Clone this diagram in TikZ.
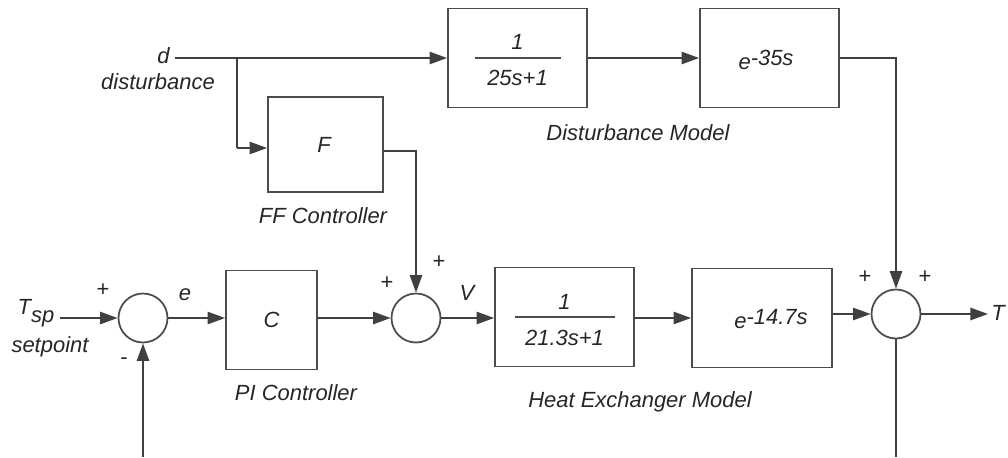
\documentclass[tikz,border=0pt]{standalone}
\usepackage{fontspec}
\setmainfont{Liberation Sans}
\usetikzlibrary{arrows.meta,calc}
\newcommand{\ex}[1]{e\raisebox{0.4ex}{#1}}
\begin{document}
\begin{tikzpicture}[x=0.02cm,y=-0.02cm,
  every node/.style={font=\itshape\fontsize{12.5}{14}\selectfont, text=black!85, inner sep=0pt},
  blk/.style={draw=black!70, line width=1pt, rectangle, inner sep=0pt},
  bigblk/.style={blk, minimum width=2.78cm, minimum height=1.98cm},
  sumnode/.style={draw=black!70, line width=1pt, circle, minimum size=0.98cm},
  wire/.style={draw=black!75, line width=1pt},
  arr/.style={wire, -{Triangle[length=10pt,width=7pt]}},
  sgn/.style={font=\fontsize{12.5}{14}\selectfont},
  fracline/.style={draw=black!70, line width=1pt}]
\useasboundingbox (0,0) rectangle (1008,457);

% top row
\node[bigblk] (g1) at (517.5,58) {};
\node (g1n) at ($(g1.center)+(0,-16)$) {1};
\node (g1d) at ($(g1.center)+(0,20)$) {25s+1};
\draw[fracline] ($(g1.center)+(-43,0)$) -- ($(g1.center)+(43,0)$);
\node[bigblk] (g2) at (769.5,58) {};
\node (g2t) at (766,60) {\ex{-35s}};
\node (dmod) at (638,133) {Disturbance Model};

% FF controller
\node[blk, minimum width=2.3cm, minimum height=1.9cm] (F) at (325.5,144.5) {};
\node (Ft) at (324,145) {F};
\node (ffc) at (323,216) {FF Controller};

% disturbance input
\node[anchor=east] (d) at (170,56) {d};
\node (dist) at (158,82) {disturbance};
\coordinate (din) at (175,58);
\coordinate (br) at (237,58);
\coordinate (brd) at (237,148);

% bottom row
\node[sumnode] (s1) at (143,318) {};
\node[blk, minimum width=1.82cm, minimum height=1.98cm] (C) at (271.5,320) {};
\node (Ct) at (271.5,320) {C};
\node (pic) at (296,393) {PI Controller};
\node[sumnode] (s2) at (416,318) {};
\node[bigblk] (h1) at (564.5,317) {};
\node (h1n) at ($(h1.center)+(0,-15)$) {1};
\node (h1d) at ($(h1.center)+(0,21)$) {21.3s+1};
\draw[fracline] ($(h1.center)+(-50,0)$) -- ($(h1.center)+(50,0)$);
\node[blk, minimum width=2.8cm, minimum height=1.98cm] (h2) at (762,318) {};
\node (h2t) at (771,319) {\ex{-14.7s}};
\node (hxm) at (640,402) {Heat Exchanger Model};
\node[sumnode] (s3) at (896,314) {};

% labels
\node (tsp) at (36,313) {T\raisebox{-0.7ex}{sp}};
\node (sp) at (50,347) {setpoint};
\node[sgn] (p1) at (103,290) {+};
\node[sgn] (m1) at (124,361) {-};
\node (e) at (185,295) {e};
\node[sgn] (p2) at (387,283) {+};
\node[sgn] (p3) at (439,262) {+};
\node (V) at (467,293) {V};
\node[sgn] (p4) at (865,277) {+};
\node[sgn] (p5) at (925,277) {+};
\node[anchor=west] (T) at (991,313) {T};

\coordinate (tin) at (60,318);
\coordinate (fb) at (143,457);
\coordinate (fout) at (416,151);
\coordinate (g2out) at (896,58);
\coordinate (tout) at (988,314);
\coordinate (bot) at (896,457);

% connectors
\draw[arr] (din) -- (g1.west |- din);
\draw[wire] (br) -- (brd);
\draw[arr] (brd) -- (F.west |- brd);
\draw[arr] (g1.east |- din) -- (g2.west |- din);
\draw[arr] (g2.east |- g2out) -- (g2out) -- (s3.north);
\draw[arr] (F.east |- fout) -- (fout) -- (s2.north);
\draw[arr] (tin) -- (s1.west);
\draw[arr] (fb) -- (s1.south);
\draw[arr] (s1.east) -- (C.west |- s1.east);
\draw[arr] (C.east |- s2.west) -- (s2.west);
\draw[arr] (s2.east) -- (h1.west |- s2.east);
\draw[arr] (h1.east |- s2.east) -- (h2.west |- s2.east);
\draw[arr] (h2.east |- s3.west) -- (s3.west);
\draw[arr] (s3.east) -- (tout);
\draw[wire] (s3.south) -- (bot);
\end{tikzpicture}
\end{document}
